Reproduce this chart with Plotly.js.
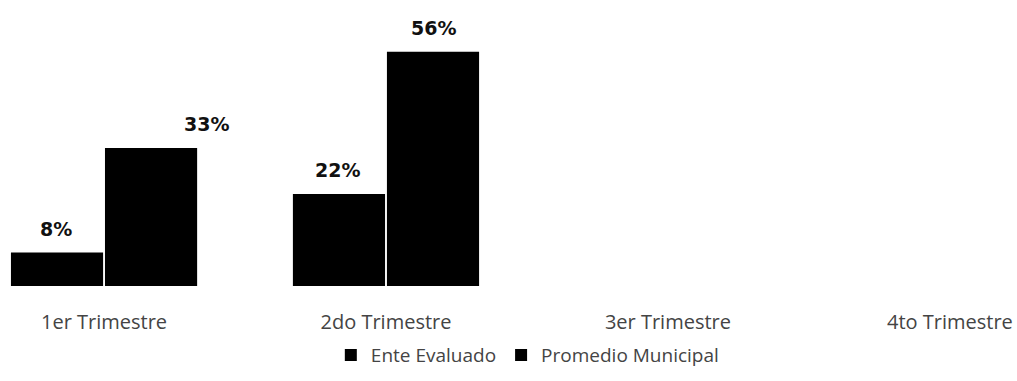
<!DOCTYPE html>
<html>
<head>
<meta charset="utf-8">
<script src="https://cdn.plot.ly/plotly-3.0.1.min.js"></script>
<style>html,body{margin:0;padding:0;background:#fff;}#chart{width:1017px;height:381px;}</style>
</head>
<body>
<div id="chart"></div>
<script>
const categories = ["1er Trimestre", "2do Trimestre", "3er Trimestre", "4to Trimestre"];
const enteEvaluado = [8, 22, null, null];
const promedioMunicipal = [33, 56, null, null];
const seriesNames = ["Ente Evaluado", "Promedio Municipal"];

const series = [enteEvaluado, promedioMunicipal];
const traces = series.map((vals, i) => ({
  type: "bar",
  name: seriesNames[i],
  x: categories,
  y: vals,
  marker: {color: "#000000"},
  hoverinfo: "skip"
}));

const annotations = [];
const xShifts = [-48, 48];
series.forEach((vals, i) => {
  vals.forEach((v, j) => {
    if (v === null) return;
    annotations.push({
      x: j, y: v, xref: "x", yref: "y",
      text: "<b>" + v + "%</b>",
      showarrow: false,
      xshift: xShifts[i] + (i === 1 && j === 0 ? 54 : 0),
      yshift: 24,
      yanchor: "middle",
      font: {family: "'DejaVu Sans', sans-serif", size: 19, color: "#111"}
    });
  });
});

const layout = {
  width: 1017, height: 381,
  margin: {l: 0, r: 0, t: 20, b: 95},
  paper_bgcolor: "#fff", plot_bgcolor: "#fff",
  barmode: "group",
  bargap: 0.333,
  bargroupgap: 0.02,
  showlegend: true,
  legend: {
    orientation: "h", x: 0.519, xanchor: "center", y: -0.26, yanchor: "middle",
    font: {family: "'Open Sans', sans-serif", size: 19, color: "#444"},
    itemwidth: 30,
    itemclick: false
  },
  xaxis: {
    type: "category",
    range: [-0.369, 3.238],
    showgrid: false, zeroline: false, showline: false, ticks: "",
    ticklabelstandoff: 22,
    tickfont: {family: "'Open Sans', sans-serif", size: 20, color: "#444"}
  },
  yaxis: {
    range: [0, 63.6],
    visible: false, showgrid: false, zeroline: false
  },
  annotations: annotations
};

Plotly.newPlot("chart", traces, layout, {displayModeBar: false, staticPlot: true});
</script>
</body>
</html>
